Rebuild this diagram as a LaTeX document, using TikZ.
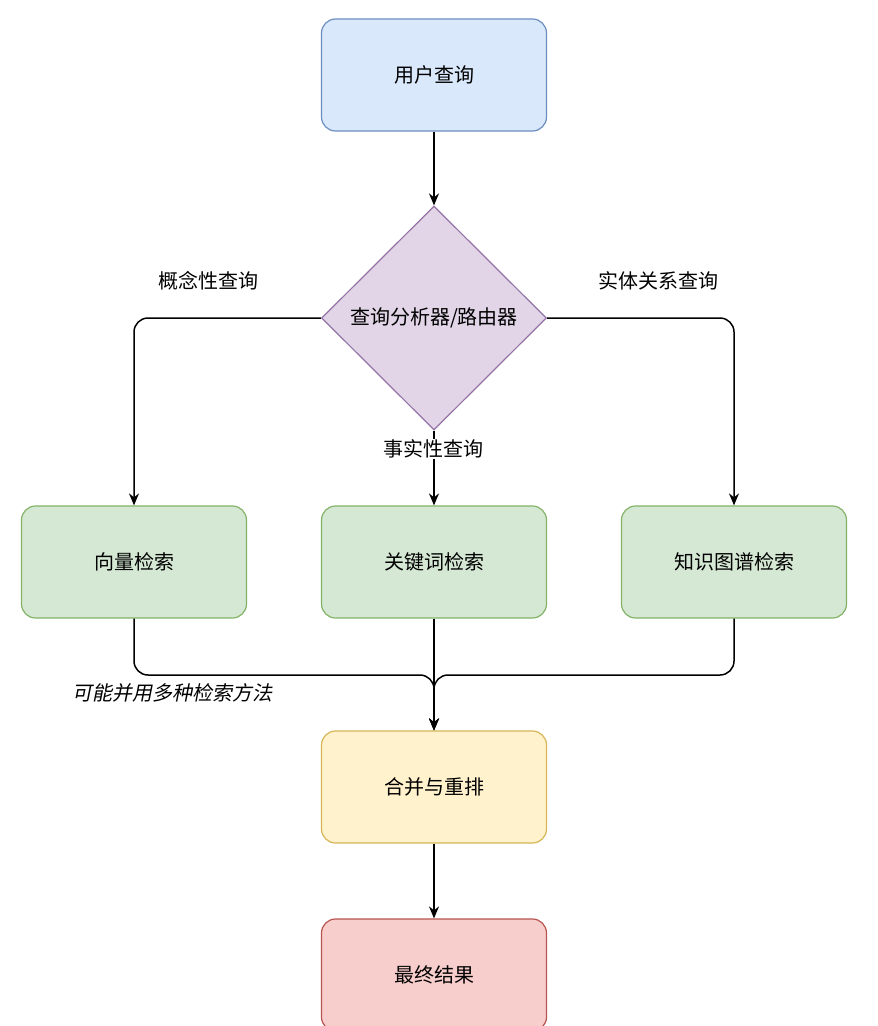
\documentclass[tikz,border=0pt]{standalone}
\usepackage{fontspec}
\setmainfont{Noto Sans CJK SC}
\newfontfamily\cjkit{Noto Sans CJK SC}[FakeSlant=0.2]
\usetikzlibrary{shapes.geometric,arrows.meta}
\definecolor{bF}{HTML}{DAE8FC}\definecolor{bD}{HTML}{6C8EBF}
\definecolor{pF}{HTML}{E1D5E7}\definecolor{pD}{HTML}{9673A6}
\definecolor{gF}{HTML}{D5E8D4}\definecolor{gD}{HTML}{82B366}
\definecolor{yF}{HTML}{FFF2CC}\definecolor{yD}{HTML}{D6B656}
\definecolor{rF}{HTML}{F8CECC}\definecolor{rD}{HTML}{B85450}
\begin{document}
\begin{tikzpicture}[x=1pt,y=-1pt,
  box/.style={rectangle,rounded corners=14pt,minimum width=225pt,minimum height=112pt,line width=1.2pt,font=\fontsize{20}{24}\selectfont},
  arr/.style={line width=1.5pt,rounded corners=14pt,-{Stealth[length=12pt,width=10pt]}},
  lab/.style={font=\fontsize{20}{24}\selectfont}]
\useasboundingbox[fill=white] (0,0) rectangle (878,1026);
\node[box,fill=bF,draw=bD] (q) at (434,75) {用户查询};
\node[diamond,aspect=1,minimum width=225pt,minimum height=224pt,inner sep=0pt,fill=pF,draw=pD,line width=1.2pt,font=\fontsize{20}{24}\selectfont] (r) at (434,318) {查询分析器/路由器};
\node[box,fill=gF,draw=gD] (v) at (134,562) {向量检索};
\node[box,fill=gF,draw=gD] (k) at (434,562) {关键词检索};
\node[box,fill=gF,draw=gD] (g) at (734,562) {知识图谱检索};
\node[box,fill=yF,draw=yD] (m) at (434,787) {合并与重排};
\node[box,fill=rF,draw=rD] (f) at (434,975) {最终结果};
\draw[arr] (q) -- (r);
\draw[arr] (r.west) -| (v.north);
\draw[arr] (r.east) -| (g.north);
\draw[arr] (r.south) -- (k.north);
\node[lab] (l1) at (208,281) {概念性查询};
\node[lab] (l2) at (658,281) {实体关系查询};
\node[lab,fill=white,inner sep=1pt] (l3) at (433,449) {事实性查询};
\coordinate (j) at (434,675);
\draw[arr] (v.south) |- (j) -- (m.north);
\draw[arr] (g.south) |- (j) -- (m.north);
\draw[arr] (k.south) -- (m.north);
\node[lab,font=\cjkit\fontsize{20}{24}\selectfont] (l4) at (172,693) {可能并用多种检索方法};
\draw[arr] (m) -- (f);
\end{tikzpicture}
\end{document}
